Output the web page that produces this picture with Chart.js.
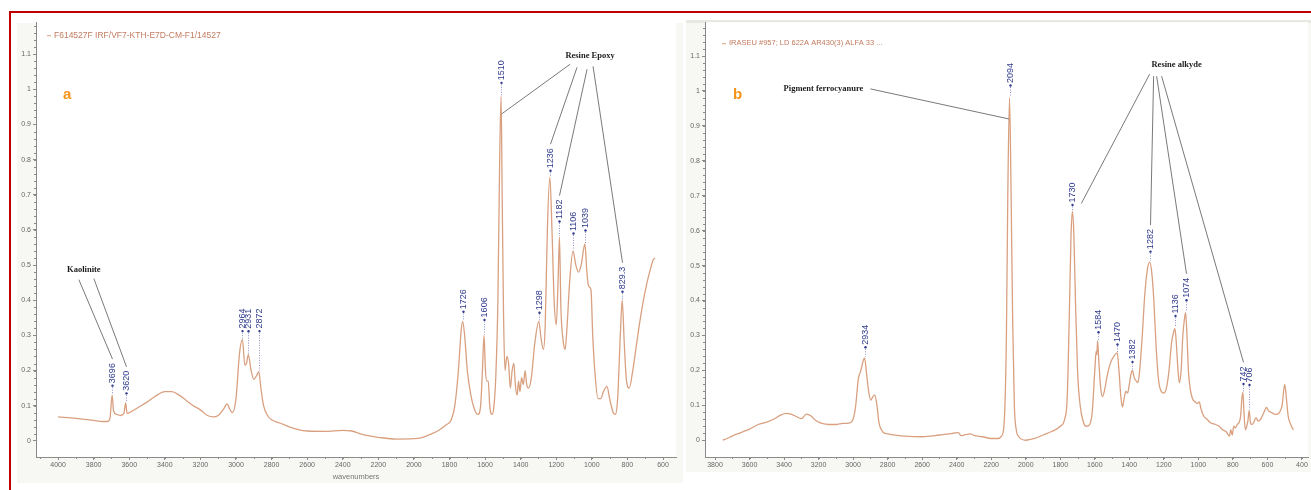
<!DOCTYPE html>
<html>
<head>
<meta charset="utf-8">
<script src="https://cdn.jsdelivr.net/npm/chart.js@4.4.0/dist/chart.umd.min.js"></script>
<style>
  html, body { margin: 0; padding: 0; background: #fff; }
  body { width: 1311px; height: 490px; position: relative; overflow: hidden; }
  .frame-top { position: absolute; left: 9px; top: 11px; width: 1302px; height: 2px; background: #c00000; }
  .frame-left { position: absolute; left: 9px; top: 11px; width: 2px; height: 479px; background: #c00000; }
  .panel { position: absolute; background: #f7f7f4; }
  #panelA { left: 17px; top: 23px; width: 666px; height: 460px; }
  #panelB { left: 686px; top: 20px; width: 625px; height: 449px; border-top: 3px solid #e9e9e2; }
  .panel canvas { position: absolute; left: 0; top: -7px; }
</style>
</head>
<body>
<div class="frame-top"></div>
<div class="frame-left"></div>
<div class="panel" id="panelA"><canvas id="chartA" width="666" height="467"></canvas></div>
<div class="panel" id="panelB"><canvas id="chartB" width="625" height="456"></canvas></div>
<script>
// IR spectra, panel a (epoxy) and panel b (alkyde)

// Panel a spectrum
const aName = 'F614527F IRF/VF7-KTH-E7D-CM-F1/14527';
const aWave = [4000, 3900, 3800, 3750, 3720, 3708, 3696, 3688, 3670, 3650, 3630, 3620, 3612, 3600, 3550, 3500, 3450, 3400, 3360, 3320,
  3280, 3240, 3200, 3160, 3130, 3100, 3070, 3050, 3035, 3020, 3000, 2980, 2964, 2950, 2940, 2931, 2915, 2900, 2885, 2872,
  2860, 2845, 2820, 2800, 2750, 2700, 2650, 2600, 2500, 2400, 2350, 2300, 2250, 2200, 2100, 2000, 1950, 1900, 1860, 1820,
  1790, 1770, 1750, 1735, 1726, 1715, 1700, 1680, 1660, 1640, 1625, 1615, 1606, 1598, 1590, 1582, 1574, 1560, 1550, 1540,
  1528, 1518, 1510, 1504, 1496, 1488, 1478, 1468, 1458, 1448, 1438, 1430, 1420, 1412, 1404, 1395, 1385, 1375, 1366, 1356,
  1340, 1320, 1298, 1285, 1272, 1262, 1250, 1236, 1224, 1212, 1200, 1190, 1182, 1174, 1160, 1150, 1140, 1125, 1106, 1090,
  1075, 1060, 1039, 1028, 1018, 1005, 995, 982, 965, 950, 935, 915, 900, 880, 868, 855, 840, 829.3, 818, 805,
  790, 770, 750, 730, 710, 690, 670, 655, 645];
const aAbs = [0.068, 0.064, 0.058, 0.055, 0.055, 0.065, 0.13, 0.085, 0.075, 0.072, 0.078, 0.108, 0.078, 0.08, 0.095, 0.11, 0.128, 0.14, 0.14, 0.13,
  0.115, 0.1, 0.088, 0.072, 0.068, 0.072, 0.09, 0.105, 0.09, 0.08, 0.12, 0.25, 0.288, 0.215, 0.222, 0.245, 0.2, 0.175, 0.185, 0.197,
  0.15, 0.1, 0.07, 0.06, 0.05, 0.04, 0.032, 0.028, 0.027, 0.03, 0.028, 0.02, 0.014, 0.01, 0.005, 0.006, 0.01, 0.02, 0.03, 0.045,
  0.06, 0.1, 0.2, 0.31, 0.34, 0.3, 0.2, 0.13, 0.09, 0.075, 0.1, 0.2, 0.3, 0.2, 0.17, 0.17, 0.1, 0.075, 0.1, 0.18,
  0.4, 0.8, 0.98, 0.7, 0.35, 0.2, 0.24, 0.22, 0.15, 0.2, 0.22, 0.16, 0.13, 0.17, 0.14, 0.18, 0.16, 0.2, 0.16, 0.15,
  0.18, 0.28, 0.34, 0.29, 0.26, 0.33, 0.6, 0.75, 0.6, 0.4, 0.33, 0.45, 0.58, 0.38, 0.28, 0.26, 0.32, 0.45, 0.54, 0.5,
  0.48, 0.5, 0.56, 0.48, 0.44, 0.43, 0.3, 0.19, 0.12, 0.12, 0.14, 0.155, 0.12, 0.08, 0.075, 0.12, 0.3, 0.4, 0.28, 0.17,
  0.15, 0.2, 0.27, 0.34, 0.4, 0.45, 0.49, 0.515, 0.52];
const aPeakLabels = ['3696', '3620', '2964', '2931', '2872', '1726', '1606', '1510', '1298', '1236', '1182', '1106', '1039', '829.3'];
const aPeakWave = [3696, 3620, 2964, 2931, 2872, 1726, 1606, 1510, 1298, 1236, 1182, 1106, 1039, 829.3];
const aXTicks = [4000, 3800, 3600, 3400, 3200, 3000, 2800, 2600, 2400, 2200, 2000, 1800, 1600, 1400, 1200, 1000, 800, 600];

// Panel b spectrum
const bName = 'IRASEU #957; LD 622A AR430(3) ALFA 33 ...';
const bWave = [3755, 3730, 3700, 3650, 3600, 3550, 3500, 3460, 3420, 3390, 3360, 3330, 3300, 3270, 3245, 3220, 3180, 3140, 3100, 3060,
  3020, 3000, 2985, 2970, 2955, 2940, 2934, 2922, 2910, 2898, 2885, 2875, 2862, 2850, 2830, 2800, 2700, 2600, 2500, 2420,
  2390, 2375, 2350, 2320, 2300, 2250, 2200, 2160, 2140, 2125, 2112, 2104, 2094, 2086, 2076, 2066, 2055, 2040, 2000, 1950,
  1900, 1850, 1800, 1775, 1760, 1748, 1738, 1730, 1722, 1712, 1700, 1685, 1665, 1650, 1630, 1615, 1600, 1592, 1588, 1584,
  1576, 1566, 1556, 1545, 1530, 1510, 1490, 1470, 1460, 1450, 1440, 1430, 1420, 1410, 1400, 1390, 1382, 1372, 1360, 1350,
  1340, 1325, 1310, 1295, 1282, 1270, 1258, 1245, 1230, 1215, 1200, 1185, 1170, 1155, 1143, 1136, 1128, 1118, 1110, 1100,
  1090, 1080, 1074, 1066, 1058, 1048, 1035, 1020, 1005, 995, 985, 970, 950, 930, 900, 880, 860, 840, 820, 812,
  804, 795, 785, 775, 765, 755, 748, 742, 736, 728, 720, 712, 706, 698, 690, 680, 666, 655, 640, 620,
  605, 595, 580, 560, 548, 530, 515, 500, 492, 480, 465, 450];
const bAbs = [0.0, 0.005, 0.012, 0.022, 0.032, 0.045, 0.052, 0.06, 0.072, 0.077, 0.075, 0.068, 0.062, 0.075, 0.07, 0.058, 0.048, 0.045, 0.045, 0.048,
  0.05, 0.06, 0.1, 0.175, 0.2, 0.23, 0.236, 0.19, 0.14, 0.115, 0.125, 0.13, 0.1, 0.05, 0.025, 0.018, 0.012, 0.01, 0.015, 0.02,
  0.022, 0.013, 0.016, 0.018, 0.014, 0.01, 0.005, 0.005, 0.012, 0.05, 0.3, 0.7, 0.98, 0.75, 0.35, 0.1, 0.03, 0.01, 0.0, 0.005,
  0.015, 0.025, 0.04, 0.06, 0.12, 0.35, 0.58, 0.655, 0.6, 0.4, 0.2, 0.1, 0.05, 0.04, 0.045, 0.08, 0.2, 0.255, 0.245, 0.285,
  0.22, 0.15, 0.125, 0.14, 0.18, 0.22, 0.24, 0.25, 0.2, 0.13, 0.095, 0.12, 0.14, 0.135, 0.16, 0.19, 0.2, 0.18, 0.17, 0.165,
  0.2, 0.3, 0.42, 0.49, 0.51, 0.48, 0.4, 0.27, 0.17, 0.14, 0.135, 0.15, 0.2, 0.28, 0.31, 0.32, 0.28, 0.2, 0.165, 0.2,
  0.3, 0.35, 0.365, 0.3, 0.2, 0.15, 0.12, 0.11, 0.105, 0.11, 0.09, 0.07, 0.06, 0.05, 0.045, 0.04, 0.03, 0.025, 0.012, 0.03,
  0.015, 0.04, 0.035, 0.045, 0.05, 0.07, 0.12, 0.137, 0.08, 0.03, 0.04, 0.06, 0.085, 0.05, 0.045, 0.05, 0.065, 0.055, 0.06, 0.08,
  0.094, 0.085, 0.08, 0.075, 0.074, 0.08, 0.1, 0.16, 0.13, 0.07, 0.045, 0.03];
const bPeakLabels = ['2934', '2094', '1730', '1584', '1470', '1382', '1282', '1136', '1074', '742', '706'];
const bPeakWave = [2934, 2094, 1730, 1584, 1470, 1382, 1282, 1136, 1074, 742, 706];
const bXTicks = [3800, 3600, 3400, 3200, 3000, 2800, 2600, 2400, 2200, 2000, 1800, 1600, 1400, 1200, 1000, 800, 600, 400];

const yTicks = [0, 0.1, 0.2, 0.3, 0.4, 0.5, 0.6, 0.7, 0.8, 0.9, 1, 1.1];

const lineColor = 'rgb(217,160,128)';
const labelBlue = '#2f3a8c';
const fontSans = "'Liberation Sans', Arial, sans-serif";

function toPoints(wave, abs) {
    return wave.map((w, i) => ({ x: w, y: abs[i] }));
}

// Peak labels, callouts, legend and minor ticks
const spectrumMarks = {
    id: 'spectrumMarks',
    beforeDraw(chart) {
        const { ctx, chartArea: a } = chart;
        ctx.save();
        ctx.fillStyle = '#ffffff';
        ctx.fillRect(a.left, a.top, a.right - a.left, a.bottom - a.top);
        ctx.restore();
    },
    afterDraw(chart, args, o) {
        const ctx = chart.ctx;
        const xs = chart.scales.x;
        const ys = chart.scales.y;
        const area = chart.chartArea;
        const pts = chart.data.datasets[0].data;
        ctx.save();

        // minor ticks
        ctx.strokeStyle = '#8a8a8a';
        ctx.lineWidth = 1;
        ctx.beginPath();
        for (let v = 0.02; v < ys.max; v += 0.02) {
            const y = Math.round(ys.getPixelForValue(v)) + 0.5;
            ctx.moveTo(area.left - 2, y);
            ctx.lineTo(area.left, y);
        }
        for (let w = Math.ceil(xs.min / 100) * 100; w <= xs.max; w += 100) {
            const x = Math.round(xs.getPixelForValue(w)) + 0.5;
            ctx.moveTo(x, area.bottom);
            ctx.lineTo(x, area.bottom + 2);
        }
        ctx.stroke();

        // legend line
        const lx = area.left + o.legend.dx;
        const ly = area.top + o.legend.dy;
        ctx.strokeStyle = lineColor;
        ctx.beginPath();
        ctx.moveTo(lx, ly + 0.5);
        ctx.lineTo(lx + 4, ly + 0.5);
        ctx.stroke();
        ctx.fillStyle = '#c27b60';
        ctx.font = o.legend.size + 'px ' + fontSans;
        ctx.textAlign = 'left';
        ctx.textBaseline = 'middle';
        ctx.fillText(chart.data.datasets[0].label, lx + 7, ly);

        // panel letter
        ctx.fillStyle = '#f39419';
        ctx.font = 'bold 15px ' + fontSans;
        ctx.textBaseline = 'alphabetic';
        ctx.fillText(o.letter, area.left + o.letterDx, area.top + 77);

        // peak labels
        const tops = {};
        ctx.font = '9px ' + fontSans;
        o.labels.forEach((lab, i) => {
            const w = o.waves[i];
            let best = pts[0];
            pts.forEach(p => { if (Math.abs(p.x - w) < Math.abs(best.x - w)) best = p; });
            const px = Math.round(xs.getPixelForValue(w)) + 0.5;
            const py = ys.getPixelForValue(best.y);
            const gap = o.gaps[lab] || 11;
            const bottom = py - gap;
            const tw = ctx.measureText(lab).width;
            ctx.strokeStyle = '#8c92c8';
            ctx.setLineDash([1, 1.5]);
            ctx.beginPath();
            ctx.moveTo(px, bottom + 3);
            ctx.lineTo(px, py - 1);
            ctx.stroke();
            ctx.setLineDash([]);
            ctx.fillStyle = labelBlue;
            ctx.beginPath();
            ctx.arc(px, bottom + 1.5, 1.2, 0, Math.PI * 2);
            ctx.fill();
            ctx.save();
            ctx.translate(px, bottom - 1);
            ctx.rotate(-Math.PI / 2);
            ctx.textAlign = 'left';
            ctx.textBaseline = 'middle';
            ctx.fillText(lab, 0, 0.5);
            ctx.restore();
            tops[lab] = { x: px, y: bottom - 1 - tw };
        });

        // callouts
        o.callouts.forEach(c => {
            const cx = xs.getPixelForValue(c.at[0]);
            const cy = ys.getPixelForValue(c.at[1]);
            ctx.font = 'bold 8.5px "Liberation Serif", serif';
            ctx.fillStyle = '#1c1c1c';
            ctx.textAlign = 'center';
            ctx.textBaseline = 'middle';
            ctx.fillText(c.text, cx, cy);
            ctx.strokeStyle = '#6a6a6a';
            ctx.lineWidth = 0.9;
            c.ends.forEach((e, j) => {
                const s = c.starts[j];
                let ex, ey;
                if (e.peak) {
                    ex = tops[e.peak].x;
                    ey = tops[e.peak].y - 4;
                } else {
                    ex = xs.getPixelForValue(e.at[0]);
                    ey = ys.getPixelForValue(e.at[1]);
                }
                ctx.beginPath();
                ctx.moveTo(cx + s[0], cy + s[1]);
                ctx.lineTo(ex, ey);
                ctx.stroke();
            });
        });
        ctx.restore();
    }
};

function makeChart(id, cfg) {
    return new Chart(document.getElementById(id), {
        type: 'line',
        data: {
            datasets: [{
                label: cfg.name,
                data: toPoints(cfg.wave, cfg.abs),
                borderColor: lineColor,
                borderWidth: 1.3,
                pointRadius: 0,
                cubicInterpolationMode: 'monotone',
                fill: false
            }]
        },
        options: {
            responsive: false,
            animation: false,
            devicePixelRatio: 1,
            layout: { padding: { left: 0, top: 0, right: cfg.padRight, bottom: 0 } },
            plugins: {
                legend: { display: false },
                tooltip: { enabled: false },
                spectrumMarks: cfg.marks
            },
            scales: {
                x: {
                    type: 'linear',
                    reverse: true,
                    min: cfg.xMin,
                    max: cfg.xMax,
                    afterFit: s => { s.height = cfg.xHeight; },
                    afterBuildTicks: s => { s.ticks = cfg.xTicks.map(v => ({ value: v })); },
                    border: { color: '#8a8a8a' },
                    grid: { drawOnChartArea: false, tickLength: 3, color: '#8a8a8a' },
                    ticks: {
                        autoSkip: false,
                        maxRotation: 0,
                        padding: 1,
                        color: '#666',
                        font: { size: 7, family: fontSans },
                        callback: v => String(v)
                    },
                    title: {
                        display: cfg.xTitle,
                        text: 'wavenumbers',
                        color: '#777',
                        font: { size: 7.5, family: fontSans },
                        padding: { top: 0, bottom: 2 }
                    }
                },
                y: {
                    min: cfg.yMin,
                    max: cfg.yMax,
                    afterFit: s => { s.width = 19; },
                    afterBuildTicks: s => { s.ticks = yTicks.map(v => ({ value: v })); },
                    border: { color: '#8a8a8a' },
                    grid: { drawOnChartArea: false, tickLength: 3, color: '#8a8a8a' },
                    ticks: {
                        padding: 2,
                        color: '#666',
                        font: { size: 7, family: fontSans },
                        callback: v => String(+v.toFixed(1))
                    }
                }
            }
        },
        plugins: [spectrumMarks]
    });
}

// Panel a
makeChart('chartA', {
    name: aName, wave: aWave, abs: aAbs, xTicks: aXTicks,
    xMin: 527, xMax: 4124, yMin: -0.046, yMax: 1.191,
    xHeight: 26, padRight: 7, xTitle: true,
    marks: {
        letter: 'a', letterDx: 27,
        legend: { dx: 11, dy: 13, size: 8.5 },
        labels: aPeakLabels, waves: aPeakWave,
        gaps: { '2964': 10, '2931': 25, '2872': 42, '1606': 17, '1510': 15, '1298': 10, '1236': 8, '1182': 17, '1106': 19, '1039': 15, '829.3': 10 },
        callouts: [
            { text: 'Kaolinite', at: [3855, 0.487], starts: [[-5, 10], [10, 9]], ends: [{ peak: '3696' }, { peak: '3620' }] },
            { text: 'Resine Epoxy', at: [1010, 1.094], starts: [[-20, 8], [-13, 11], [-3, 13], [3, 10]],
              ends: [{ at: [1507, 0.93] }, { peak: '1236' }, { peak: '1182' }, { peak: '829.3' }] }
        ]
    }
});

// Panel b
makeChart('chartB', {
    name: bName, wave: bWave, abs: bAbs, xTicks: bXTicks,
    xMin: 365, xMax: 3858, yMin: -0.048, yMax: 1.197,
    xHeight: 15, padRight: 3, xTitle: false,
    marks: {
        letter: 'b', letterDx: 28,
        legend: { dx: 17, dy: 21, size: 7.5 },
        labels: bPeakLabels, waves: bPeakWave,
        gaps: { '2934': 12, '2094': 14, '1730': 8, '1584': 10, '1470': 10, '1382': 10, '1282': 12, '1136': 14, '1074': 14, '742': 10, '706': 27 },
        callouts: [
            { text: 'Pigment ferrocyanure', at: [3172, 1.006], starts: [[47, 0]], ends: [{ at: [2098, 0.92] }] },
            { text: 'Resine alkyde', at: [1126, 1.074], starts: [[-27, 9], [-23, 11], [-20, 11], [-15, 11]],
              ends: [{ at: [1678, 0.678] }, { peak: '1282' }, { peak: '1074' }, { peak: '742' }] }
        ]
    }
});
</script>
</body>
</html>
